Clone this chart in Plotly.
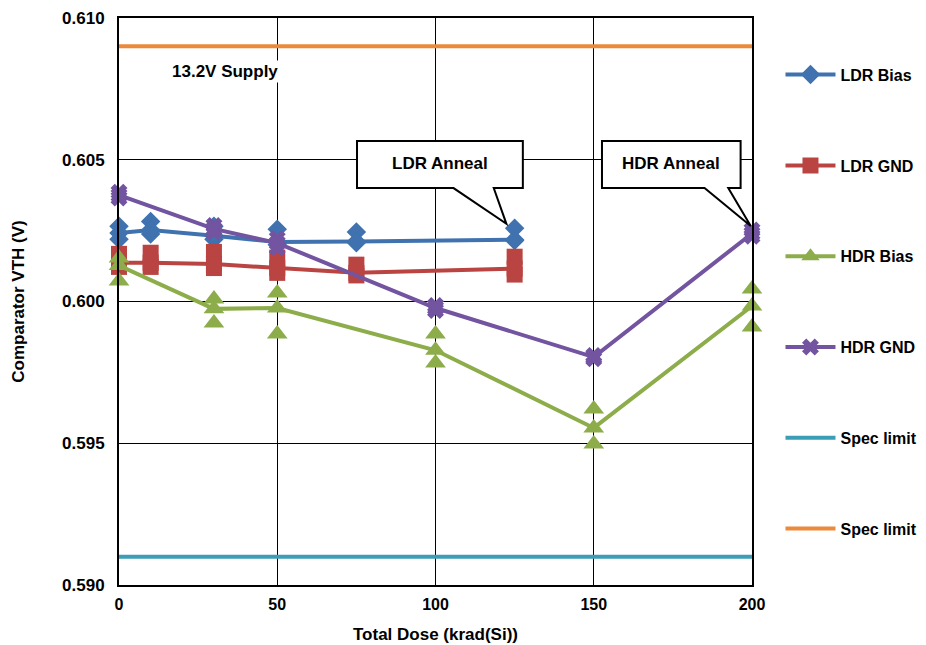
import plotly.graph_objects as go

# ---------------- data ----------------
ldr_x = [0, 10, 30, 50, 75, 125]
ldr_bias_mean = [0.60242, 0.60252, 0.60232, 0.60210, 0.60212, 0.60218]
ldr_bias_hi = [0.60265, 0.60282, 0.60265, 0.60255, 0.60245, 0.60258]
ldr_bias_lo = [0.60220, 0.60238, 0.60220, 0.60200, 0.60207, 0.60215]

ldr_gnd_mean = [0.60137, 0.60137, 0.60132, 0.60118, 0.60101, 0.60116]
ldr_gnd_hi = [0.60168, 0.60172, 0.60175, 0.60155, 0.60130, 0.60158]
ldr_gnd_lo = [0.60122, 0.60122, 0.60118, 0.60101, 0.60092, 0.60095]

hdr_x = [0, 30, 50, 100, 150, 200]
hdr_bias_mean = [0.60127, 0.59974, 0.59977, 0.59828, 0.59554, 0.59984]
hdr_bias_hi = [0.60153, 0.60009, 0.60030, 0.59885, 0.59621, 0.60044]
hdr_bias_lo = [0.60072, 0.59924, 0.59885, 0.59783, 0.59497, 0.59910]

hdr_gnd_mean = [0.60375, 0.60256, 0.60206, 0.59977, 0.59804, 0.60240]
hdr_gnd_hi = [0.60385, 0.60268, 0.60222, 0.59986, 0.59810, 0.60252]
hdr_gnd_lo = [0.60365, 0.60245, 0.60190, 0.59968, 0.59798, 0.60230]

spec_x = [0, 200]
spec_low = 0.591
spec_high = 0.609

x_ticks = [0, 50, 100, 150, 200]
y_ticks = [0.590, 0.595, 0.600, 0.605, 0.610]

# ---------------- style ----------------
FONT = "Liberation Sans, Arial, sans-serif"
C_BLUE = "#3F72AF"
C_RED = "#B94442"
C_GREEN = "#8DAD4B"
C_PURPLE = "#7354A0"
C_TEAL = "#3C9DB6"
C_ORANGE = "#EB8A3A"

fig = go.Figure()


def add_series(name, xs, mean, hi, lo, color, symbol, size, group):
    fig.add_trace(go.Scatter(
        x=xs + xs, y=hi + lo, mode="markers", showlegend=False,
        legendgroup=group, hoverinfo="skip", cliponaxis=False,
        marker=dict(symbol=symbol, size=size, color=color, line=dict(width=0))))
    fig.add_trace(go.Scatter(
        x=xs, y=mean, mode="lines+markers", name=f"<b>{name}</b>", legendgroup=group,
        cliponaxis=False,
        line=dict(color=color, width=4),
        marker=dict(symbol=symbol, size=size, color=color, line=dict(width=0))))


add_series("LDR Bias", ldr_x, ldr_bias_mean, ldr_bias_hi, ldr_bias_lo, C_BLUE, "diamond", 15, "g1")
add_series("LDR GND", ldr_x, ldr_gnd_mean, ldr_gnd_hi, ldr_gnd_lo, C_RED, "square", 16, "g2")
add_series("HDR Bias", hdr_x, hdr_bias_mean, hdr_bias_hi, hdr_bias_lo, C_GREEN, "triangle-up", 18, "g3")
add_series("HDR GND", hdr_x, hdr_gnd_mean, hdr_gnd_hi, hdr_gnd_lo, C_PURPLE, "x", 15, "g4")

fig.add_trace(go.Scatter(x=spec_x, y=[spec_low, spec_low], mode="lines", name="<b>Spec limit</b>",
                         legendgroup="g5", line=dict(color=C_TEAL, width=4)))
fig.add_trace(go.Scatter(x=spec_x, y=[spec_high, spec_high], mode="lines", name="<b>Spec limit</b>",
                         legendgroup="g6", line=dict(color=C_ORANGE, width=4)))


# ---------------- callouts ----------------
def callout(x0, x1, y0, y1, b0, b1, tx, ty, text):
    path = (f"M {x0},{y1} L {x1},{y1} L {x1},{y0} L {b1},{y0} L {tx},{ty} "
            f"L {b0},{y0} L {x0},{y0} Z")
    fig.add_shape(type="path", path=path, xref="x", yref="y", layer="above",
                  fillcolor="white", line=dict(color="black", width=2))
    fig.add_annotation(x=(x0 + x1) / 2, y=(y0 + y1) / 2 + 0.00005, xref="x", yref="y",
                       text=f"<b>{text}</b>", showarrow=False,
                       font=dict(family=FONT, size=17, color="black"))


callout(75.2, 127.6, 0.60400, 0.60566, 105.7, 118.4, 122.4, 0.60274, "LDR Anneal")
callout(152.6, 196.4, 0.60400, 0.60566, 185.0, 192.5, 199.6, 0.60266, "HDR Anneal")

fig.add_annotation(x=16, y=0.6081, xref="x", yref="y", xanchor="left",
                   text="<b>13.2V Supply</b>", showarrow=False, bgcolor="white",
                   font=dict(family=FONT, size=17, color="black"))

# ---------------- layout ----------------
fig.update_layout(
    width=926, height=645,
    margin=dict(l=111, r=182, t=10, b=68, autoexpand=False),
    paper_bgcolor="white", plot_bgcolor="white",
    font=dict(family=FONT, size=16, color="black"),
    showlegend=True,
    legend=dict(x=1.045, y=0.93, xanchor="left", yanchor="top",
                tracegroupgap=67, itemwidth=50,
                font=dict(family=FONT, size=16, color="black"),
                bgcolor="rgba(0,0,0,0)"),
    xaxis=dict(range=[0, 200], tickvals=x_ticks, ticktext=[f"<b>{v}</b>" for v in x_ticks],
               showgrid=True, gridcolor="black", gridwidth=1,
               showline=True, linecolor="black", linewidth=2, mirror=True,
               zeroline=False, ticks="", ticklen=0, ticklabelstandoff=4,
               tickfont=dict(family=FONT, size=16, color="black"),
               title=dict(text="<b>Total Dose (krad(Si))</b>", standoff=16,
                          font=dict(family=FONT, size=17, color="black"))),
    yaxis=dict(range=[0.590, 0.610], tickvals=y_ticks,
               ticktext=[f"<b>{v:.3f}</b>" for v in y_ticks],
               showgrid=True, gridcolor="black", gridwidth=1,
               showline=True, linecolor="black", linewidth=2, mirror=True,
               zeroline=False, ticks="", ticklen=0, ticklabelstandoff=9,
               tickfont=dict(family=FONT, size=17, color="black"),
               title=dict(text="<b>Comparator VTH (V)</b>", standoff=33,
                          font=dict(family=FONT, size=17, color="black"))),
)

fig.write_html("out.html")
